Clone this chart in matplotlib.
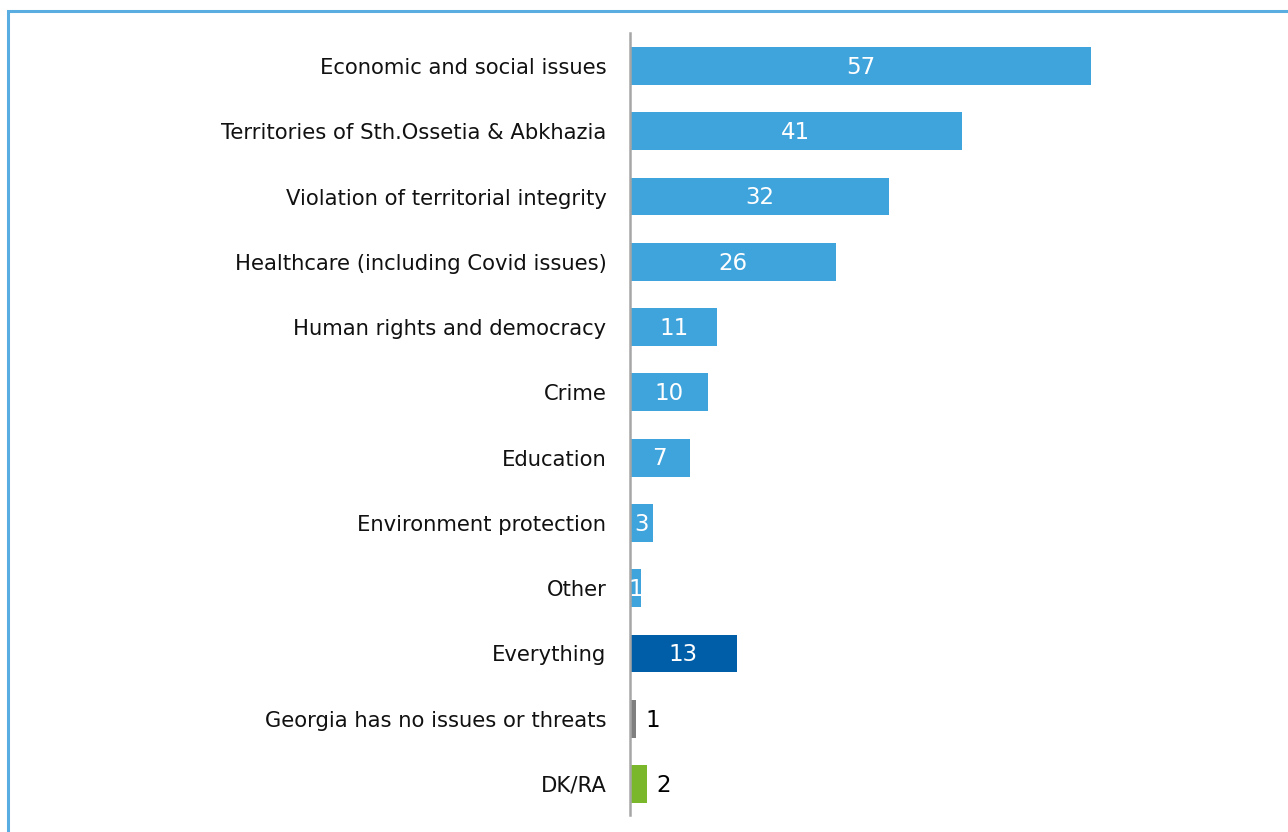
import matplotlib
matplotlib.use("Agg")
import matplotlib.pyplot as plt
from matplotlib.patches import Rectangle

categories = [
    "Economic and social issues",
    "Territories of Sth.Ossetia & Abkhazia",
    "Violation of territorial integrity",
    "Healthcare (including Covid issues)",
    "Human rights and democracy",
    "Crime",
    "Education",
    "Environment protection",
    "Other",
    "Everything",
    "Georgia has no issues or threats",
    "DK/RA",
]
values = [57, 41, 32, 25.5, 10.8, 9.7, 7.4, 2.8, 1.3, 13.2, 0.7, 2.1]
labels = ["57", "41", "32", "26", "11", "10", "7", "3", "1", "13", "1", "2"]
colors = ["#3fa3dc"] * 9 + ["#005ea8", "#7f7f7f", "#7ab72a"]
inside = [True] * 10 + [False, False]

plt.rcParams["font.family"] = ["DejaVu Sans"]

W, H = 1288, 832
fig = plt.figure(figsize=(W / 100, H / 100), dpi=100, facecolor="white")

# light blue frame (only top and left edges visible)
fig.patches.append(Rectangle((8 / W, -0.1), 1.2, (H - 11) / H + 0.1, transform=fig.transFigure,
                             fill=False, edgecolor="#5aade0", linewidth=2.2))

left, right = 630 / W, (W - 20) / W
bottom, top = 1 - 815 / H, 1 - 33 / H
ax = fig.add_axes([left, bottom, right - left, top - bottom])
px_per_unit = (1091 - 630) / 57
ax.set_xlim(0, (W - 20 - 630) / px_per_unit)
ax.set_ylim(11.475, -0.506)

y = range(len(categories))
ax.barh(y, values, height=0.58, color=colors, linewidth=0)

for i, (v, lab, ins) in enumerate(zip(values, labels, inside)):
    if ins:
        ax.text(v / 2, i + 0.02, lab, ha="center", va="center", color="white", fontsize=16.5)
    else:
        ax.text(v + 1.2, i + 0.02, lab, ha="left", va="center", color="black", fontsize=16.5)

ax.set_yticks(list(y))
ax.set_yticklabels(categories, fontsize=15.2, color="#111111")
ax.tick_params(axis="y", length=0, pad=17)
ax.set_xticks([])
for s in ["top", "right", "bottom"]:
    ax.spines[s].set_visible(False)
ax.spines["left"].set_color("#a6a6a6")
ax.spines["left"].set_linewidth(1.8)

fig.savefig("out.png", dpi=100, facecolor="white")
